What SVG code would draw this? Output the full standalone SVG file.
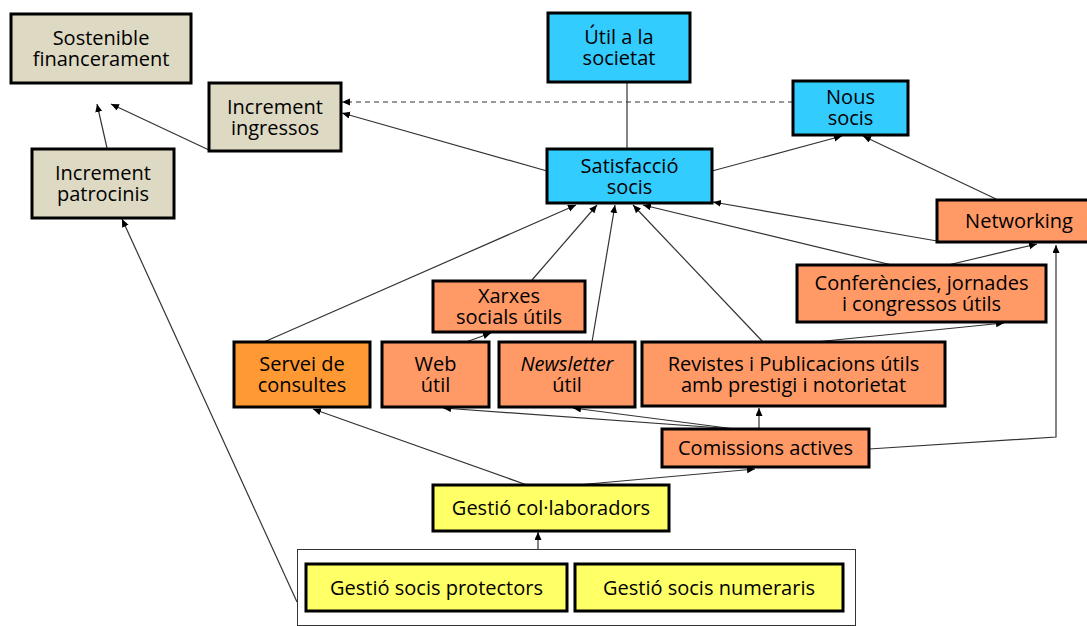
<svg xmlns="http://www.w3.org/2000/svg" width="1087" height="626" viewBox="0 0 1087 626">
<style>
.n{stroke:#000;stroke-width:3}
.beige{fill:#ddd9c3}.cyan{fill:#33ccff}.org{fill:#ff9966}.org2{fill:#ff9933}.yel{fill:#ffff66}
text{font-family:"Open Sans","Noto Sans",sans-serif;font-size:20px;fill:#000;text-anchor:middle}
.e{fill:none;stroke:#333;stroke-width:1.2;marker-end:url(#ah)}
.p{fill:none;stroke:#333;stroke-width:1.2}
</style>
<defs>
<marker id="ah" markerUnits="userSpaceOnUse" markerWidth="9" markerHeight="8" refX="8" refY="3.5" orient="auto">
<path d="M0,0 L8,3.5 L0,7 z" fill="#000"/>
</marker>
</defs>
<rect width="1087" height="626" fill="#fff"/>
<rect x="297.5" y="549.5" width="558" height="76" fill="#fff" stroke="#333" stroke-width="1"/>
<g id="connectors">
<path class="e" d="M107,148 L97,104"/>
<path class="e" d="M209,150 L111,104"/>
<path class="e" d="M793,102 L342,102" stroke-dasharray="5,4"/>
<path class="e" d="M547,171 L342,113"/>
<path class="p" d="M627,82 L627,149"/>
<path class="e" d="M712,171 L842,136"/>
<path class="e" d="M996,199 L863,136"/>
<path class="e" d="M937,241 L713,202"/>
<path class="e" d="M264,342 L576,205"/>
<path class="e" d="M532,280 L597,205"/>
<path class="e" d="M592,342 L615,205"/>
<path class="e" d="M763,342 L633,205"/>
<path class="e" d="M892,265 L643,205"/>
<path class="e" d="M948,265 L1037,244"/>
<path class="e" d="M815,342 L1004,323"/>
<path class="e" d="M466,342 L491,333"/>
<path class="e" d="M759,429 L759,408"/>
<path class="e" d="M735,429 L443,408"/>
<path class="e" d="M735,429 L573,408"/>
<path class="e" d="M869,449 L1056,437 L1056,245"/>
<path class="e" d="M527,485 L313,409"/>
<path class="e" d="M577,485 L755,469"/>
<path class="e" d="M538,549 L538,532"/>
<path class="e" d="M297,602 L122,219"/>
</g>
<g id="sostenible"><rect class="n beige" x="11" y="14" width="180" height="69"/><text x="101" y="45">Sostenible<tspan x="101" dy="21">financerament</tspan></text></g>
<g id="ingressos"><rect class="n beige" x="209" y="83" width="132" height="68"/><text x="275" y="113.5">Increment<tspan x="275" dy="21">ingressos</tspan></text></g>
<g id="patrocinis"><rect class="n beige" x="32" y="149" width="142" height="69"/><text x="103" y="180">Increment<tspan x="103" dy="21">patrocinis</tspan></text></g>
<g id="util"><rect class="n cyan" x="548" y="13" width="142" height="69"/><text x="619" y="44">Útil a la<tspan x="619" dy="21">societat</tspan></text></g>
<g id="satisfaccio"><rect class="n cyan" x="547" y="149" width="165" height="54"/><text x="629.5" y="173">Satisfacció<tspan x="629.5" dy="21">socis</tspan></text></g>
<g id="nous"><rect class="n cyan" x="793" y="81" width="115" height="54"/><text x="850.5" y="104">Nous<tspan x="850.5" dy="21">socis</tspan></text></g>
<g id="networking"><rect class="n org" x="937" y="200" width="165" height="42"/><text x="1019" y="228">Networking</text></g>
<g id="conferencies"><rect class="n org" x="797" y="265" width="249" height="57"/><text x="921.5" y="290">Conferències, jornades<tspan x="921.5" dy="21">i congressos útils</tspan></text></g>
<g id="xarxes"><rect class="n org" x="433" y="281" width="152" height="51"/><text x="509" y="303">Xarxes<tspan x="509" dy="21">socials útils</tspan></text></g>
<g id="servei"><rect class="n org2" x="234" y="342" width="136" height="65"/><text x="302" y="371">Servei de<tspan x="302" dy="21">consultes</tspan></text></g>
<g id="web"><rect class="n org" x="382" y="342" width="107" height="65"/><text x="435.5" y="371">Web<tspan x="435.5" dy="21">útil</tspan></text></g>
<g id="newsletter"><rect class="n org" x="499" y="342" width="136" height="65"/><text x="567" y="371"><tspan font-style="italic">Newsletter</tspan><tspan x="567" dy="21">útil</tspan></text></g>
<g id="revistes"><rect class="n org" x="642" y="342" width="303" height="64"/><text x="793.5" y="370.5">Revistes i Publicacions útils<tspan x="793.5" dy="21">amb prestigi i notorietat</tspan></text></g>
<g id="comissions"><rect class="n org" x="662" y="429" width="207" height="38"/><text x="765.5" y="455">Comissions actives</text></g>
<g id="collaboradors"><rect class="n yel" x="433" y="485" width="236" height="46"/><text x="551" y="515">Gestió col·laboradors</text></g>
<g id="protectors"><rect class="n yel" x="306" y="564" width="261" height="47"/><text x="436.5" y="594.5">Gestió socis protectors</text></g>
<g id="numeraris"><rect class="n yel" x="575" y="564" width="268" height="47"/><text x="709" y="594.5">Gestió socis numeraris</text></g>
</svg>
